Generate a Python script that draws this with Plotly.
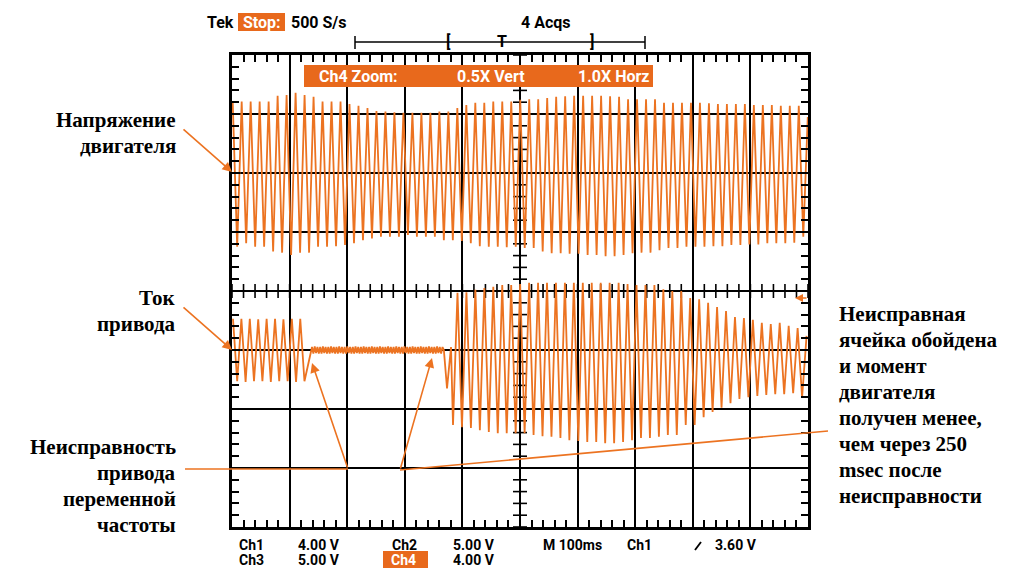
import plotly.graph_objects as go

# ---------------- data (values in screen divisions) ----------------
# Time base: 100 ms / div, 10 divisions
# Ch1 – motor voltage: successive positive / negative peaks
volt_tops = [1.21, 1.21, 1.21, 1.21, 1.21, 1.31, 1.32, 1.36, 1.32, 1.29,
             1.21, 1.21, 1.21, 1.17, 1.14, 1.10, 1.05, 1.04, 1.03, 1.02,
             1.02, 1.02, 1.02, 1.04, 1.04, 1.10, 1.15, 1.19, 1.19, 1.21,
             1.21, 1.21, 1.24, 1.25, 1.25, 1.27, 1.29, 1.30, 1.31, 1.31,
             1.31, 1.31, 1.30, 1.29, 1.25, 1.25, 1.25, 1.25, 1.19, 1.19,
             1.19, 1.19, 1.19, 1.18, 1.17, 1.17, 1.17, 1.17, 1.15, 1.15,
             1.15, 1.14, 1.14, 1.14]
volt_bottoms = [-1.25, -1.19, -1.25, -1.25, -1.33, -1.35, -1.39, -1.35, -1.35, -1.25,
                -1.25, -1.24, -1.22, -1.19, -1.14, -1.11, -1.08, -1.08, -1.08, -1.05,
                -1.08, -1.08, -1.08, -1.14, -1.14, -1.15, -1.19, -1.24, -1.25, -1.25,
                -1.26, -1.25, -1.27, -1.27, -1.33, -1.36, -1.36, -1.37, -1.37, -1.39,
                -1.39, -1.41, -1.41, -1.39, -1.36, -1.35, -1.35, -1.31, -1.27, -1.27,
                -1.25, -1.25, -1.25, -1.24, -1.24, -1.22, -1.22, -1.21, -1.21, -1.19,
                -1.19, -1.19, -1.18, -1.08]
volt_end = 0.95
volt_t0_ms = 1.2
volt_half_period_ms = 7.8
volt_position_div = 2.0

# Ch4 – drive current
# A: before the fault
cur_a_tops = [0.53, 0.53, 0.53, 0.52, 0.53, 0.53, 0.52, 0.53, 0.53]
cur_a_bottoms = [-0.53, -0.54, -0.53, -0.53, -0.54, -0.53, -0.53, -0.54, -0.53]
cur_a_t0_ms = 1.7
cur_a_half_period_ms = 7.3
# B: fault – small ripple
cur_b_hi = [0.05, 0.06, 0.05, 0.05, 0.06, 0.05, 0.05, 0.06, 0.05, 0.05,
            0.06, 0.05, 0.05, 0.06, 0.05, 0.05, 0.06, 0.05, 0.05, 0.06,
            0.05, 0.05, 0.06, 0.05, 0.05, 0.06, 0.05, 0.05, 0.06, 0.05,
            0.05, 0.06, 0.05, 0.05, 0.06, 0.05, 0.05, 0.06, 0.05, 0.05,
            0.06, 0.05, 0.05, 0.06, 0.05, 0.05, 0.06, 0.05, 0.05]
cur_b_lo = [-0.06, -0.05, -0.06, -0.06, -0.05, -0.06, -0.06, -0.05, -0.06, -0.06,
            -0.05, -0.06, -0.06, -0.05, -0.06, -0.06, -0.05, -0.06, -0.06, -0.05,
            -0.06, -0.06, -0.05, -0.06, -0.06, -0.05, -0.06, -0.06, -0.05, -0.06,
            -0.06, -0.05, -0.06, -0.06, -0.05, -0.06, -0.06, -0.05, -0.06, -0.06,
            -0.05, -0.06, -0.06, -0.05, -0.06, -0.06, -0.05, -0.06, 0.0]
cur_b_t0_ms = 138.9
cur_b_half_period_ms = 2.36
# C: transition
cur_c_times_ms = [373.3, 380.2]
cur_c_values = [-0.65, 0.05]
# D: after the bypass
cur_d_bottoms = [-1.27, -1.31, -1.32, -1.36, -1.39, -1.41, -1.41, -1.41, -1.41, -1.44,
                 -1.46, -1.47, -1.49, -1.53, -1.54, -1.56, -1.56, -1.58, -1.58, -1.56,
                 -1.53, -1.49, -1.49, -1.47, -1.44, -1.44, -1.27, -1.27, -1.14, -1.05,
                 -0.98, -0.90, -0.83, -0.80, -0.78, -0.76, -0.75, -0.75, -0.73, -0.80]
cur_d_tops = [0.97, 0.98, 1.02, 1.05, 1.07, 1.10, 1.10, 1.12, 1.14, 1.14,
              1.14, 1.14, 1.14, 1.14, 1.14, 1.14, 1.14, 1.14, 1.14, 1.12,
              1.10, 1.10, 1.10, 1.03, 1.00, 1.00, 0.88, 0.86, 0.80, 0.73,
              0.66, 0.56, 0.54, 0.51, 0.46, 0.44, 0.46, 0.41, 0.37, 0.24]
cur_d_t0_ms = 383.7
cur_d_half_period_ms = 7.77
cur_position_div = -1.0

ms_per_div = 100

# ---------------- build sample sequences ----------------
def interleave(first, second):
    out = []
    for a, b in zip(first, second):
        out += [a, b]
    return out

def timed(values, t0, half):
    return [t0 + i * half for i in range(len(values))], values

v_vals = interleave(volt_tops, volt_bottoms) + [volt_end]
v_t, v_vals = timed(v_vals, volt_t0_ms, volt_half_period_ms)
v_y = [volt_position_div + v for v in v_vals]

a_t, a_v = timed(interleave(cur_a_tops, cur_a_bottoms), cur_a_t0_ms, cur_a_half_period_ms)
b_t, b_v = timed(interleave(cur_b_hi, cur_b_lo), cur_b_t0_ms, cur_b_half_period_ms)
d_t, d_v = timed(interleave(cur_d_bottoms, cur_d_tops), cur_d_t0_ms, cur_d_half_period_ms)
c_t = a_t + b_t + cur_c_times_ms + d_t
c_y = [cur_position_div + v for v in (a_v + b_v + cur_c_values + d_v)]

ORANGE = "#EC7321"
BOX = "#E8691C"

fig = go.Figure()

# graticule centre cross ticks
fig.add_trace(go.Scatter(
    x=[i * ms_per_div / 5 for i in range(51)], y=[0] * 51, mode="markers",
    marker=dict(symbol="line-ns", size=10, line=dict(color="black", width=1.6)),
    hoverinfo="skip", showlegend=False))
fig.add_trace(go.Scatter(
    x=[5 * ms_per_div] * 41, y=[-4 + i * 0.2 for i in range(41)], mode="markers",
    marker=dict(symbol="line-ew", size=10, line=dict(color="black", width=1.6)),
    hoverinfo="skip", showlegend=False))

fig.add_trace(go.Scatter(x=v_t, y=v_y, mode="lines",
                         line=dict(color=ORANGE, width=1.8), showlegend=False))
fig.add_trace(go.Scatter(x=c_t, y=c_y, mode="lines",
                         line=dict(color=ORANGE, width=1.8), showlegend=False))

axis_common = dict(showgrid=True, gridcolor="black", gridwidth=1.6,
                   showline=True, linecolor="black", linewidth=3, mirror="ticks",
                   ticks="inside", ticklen=8, tickcolor="black", tickwidth=1.6,
                   showticklabels=False, zeroline=False, fixedrange=True)
fig.update_xaxes(range=[0, 10 * ms_per_div], dtick=ms_per_div, tick0=0,
                 minor=dict(dtick=ms_per_div / 5, ticks="inside", ticklen=7,
                            tickcolor="black", tickwidth=1.5, showgrid=False),
                 **axis_common)
fig.update_yaxes(range=[-4, 4], dtick=1, tick0=0,
                 minor=dict(dtick=0.2, ticks="inside", ticklen=7,
                            tickcolor="black", tickwidth=1.5, showgrid=False),
                 **axis_common)

# ---------------- pixel helpers (screen pixels of the 1016x578 window) ----------------
PAGE_MARGIN = 8          # default body margin of the html page
W, H = 1016 - 2 * PAGE_MARGIN, 578 - 2 * PAGE_MARGIN
L, R, T, B = 232, 808, 55, 527
def PX(x):
    return (x - L) / (R - L)
def PY(y):
    return (B - y) / (B - T)

scope_font = dict(family="Roboto", size=16, color="black", weight="bold")
white_font = dict(family="Roboto", size=16, color="white", weight="bold")
foot_font = dict(family="Roboto", size=14, color="black", weight="bold")
foot_white = dict(family="Roboto", size=14, color="white", weight="bold")
serif_font = dict(family="Liberation Serif", size=21, color="black", weight="bold")

ann = []
def text(x, y, s, font=scope_font, xanchor="left"):
    ann.append(dict(x=PX(x), y=PY(y), xref="paper", yref="paper", text=s,
                    showarrow=False, xanchor=xanchor, yanchor="middle", font=font))

shapes = []
def rect(x0, y0, x1, y1, color):
    shapes.append(dict(type="rect", xref="paper", yref="paper", x0=PX(x0), x1=PX(x1),
                       y0=PY(y0), y1=PY(y1), fillcolor=color, line=dict(width=0),
                       layer="above"))
def line(x0, y0, x1, y1, color, width):
    shapes.append(dict(type="line", xref="paper", yref="paper", x0=PX(x0), x1=PX(x1),
                       y0=PY(y0), y1=PY(y1), line=dict(color=color, width=width),
                       layer="above"))
def arrow(tipx, tipy, tailx, taily, head=2, size=1.2):
    ann.append(dict(x=PX(tipx), y=PY(tipy), xref="paper", yref="paper", text="",
                    showarrow=True, ax=tailx - tipx, ay=taily - tipy,
                    arrowhead=head, arrowsize=size, arrowwidth=1.6,
                    arrowcolor=ORANGE, standoff=0))

# header
text(236, 22, "Tek", scope_font, "right")
rect(238, 13, 285, 31, BOX)
text(241, 22, "Stop:", white_font)
text(289, 22, "500 S/s")
text(519, 22, "4 Acqs")
line(355, 42, 645, 42, "black", 1.5)
line(355, 36, 355, 49, "black", 1.5)
line(645, 36, 645, 49, "black", 1.5)
text(448, 42, "[", scope_font, "center")
text(502, 42, "T", scope_font, "center")
text(592, 42, "]", scope_font, "center")

# zoom banner
rect(304, 65, 653, 87, BOX)
text(317, 76, "Ch4 Zoom:", white_font)
text(455, 76, "0.5X Vert", white_font)
text(576, 76, "1.0X Horz", white_font)

# footer
r1, r2 = 545, 560
text(237, r1, "Ch1", foot_font); text(296, r1, "4.00 V", foot_font)
text(390, r1, "Ch2", foot_font); text(451, r1, "5.00 V", foot_font)
text(541, r1, "M 100ms", foot_font); text(625, r1, "Ch1", foot_font)
line(695, r1 + 5, 701, r1 - 3, "black", 1.8)
text(713, r1, "3.60 V", foot_font)
text(237, r2, "Ch3", foot_font); text(296, r2, "5.00 V", foot_font)
rect(383, r2 - 9, 428, r2 + 8, BOX)
text(389, r2, "Ch4", foot_white)
text(451, r2, "4.00 V", foot_font)

# explanatory labels
def block(x, y0, lines, xanchor):
    for i, s in enumerate(lines):
        text(x, y0 + 26 * i, s, serif_font, xanchor)

block(178, 120, ["Напряжение", "двигателя"], "right")
block(178, 298, ["Ток", "привода"], "right")
block(178, 447, ["Неисправность", "привода", "переменной", "частоты"], "right")
block(837, 314, ["Неисправная", "ячейка обойдена", "и момент", "двигателя",
                 "получен менее,", "чем через 250", "msec после", "неисправности"], "left")

arrow(232, 172, 182, 128)
arrow(232, 350, 182, 306)
arrow(312, 363, 348, 469)
arrow(432, 358, 400, 470)
arrow(795, 298, 808, 298, head=2, size=1.0)
line(185, 469, 348, 469, ORANGE, 1.6)
line(400, 470, 828, 431, ORANGE, 1.6)

fig.update_layout(width=W, height=H,
                  margin=dict(l=L - PAGE_MARGIN, r=W - (R - PAGE_MARGIN),
                              t=T - PAGE_MARGIN, b=H - (B - PAGE_MARGIN), pad=0),
                  plot_bgcolor="white", paper_bgcolor="white",
                  annotations=ann, shapes=shapes, showlegend=False)

fig.write_html("out.html")
